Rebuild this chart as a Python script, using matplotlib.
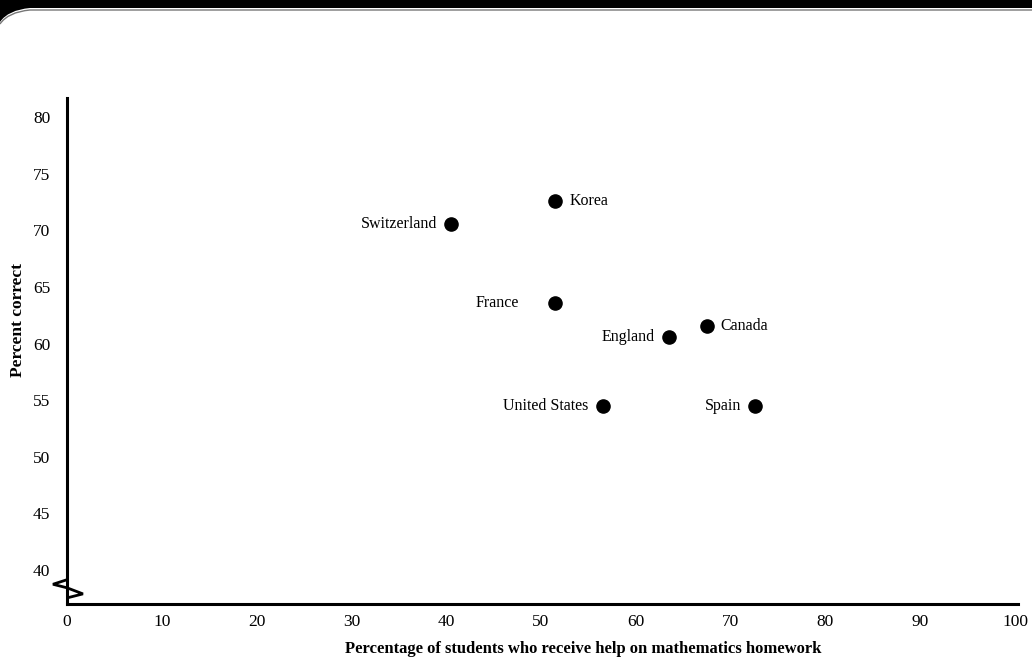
import matplotlib
matplotlib.use("Agg")
import matplotlib.pyplot as plt
from matplotlib.path import Path
from matplotlib.patches import PathPatch

plt.rcParams['font.family'] = ['Liberation Serif', 'DejaVu Serif']

# Data
countries = ['Korea', 'Switzerland', 'France', 'England', 'Canada', 'United States', 'Spain']
help_pct = [51.5, 40.5, 51.5, 63.5, 67.5, 56.5, 72.6]
correct_pct = [72.6, 70.6, 63.6, 60.6, 61.6, 54.5, 54.5]
label_side = ['right', 'left', 'left', 'left', 'right', 'left', 'left']
label_gap = [10, 10, 26, 10, 10, 10, 10]

x_ticks = [0, 10, 20, 30, 40, 50, 60, 70, 80, 90, 100]
y_ticks = [40, 45, 50, 55, 60, 65, 70, 75, 80]

W, H = 1032, 658
fig = plt.figure(figsize=(W / 100, H / 100), dpi=100)
ax = fig.add_axes([67 / W, 54 / H, (1015 - 67) / W, (604 - 98) / H])

ax.scatter(help_pct, correct_pct, s=90, color='black', zorder=3)
for name, x, y, side, gap in zip(countries, help_pct, correct_pct, label_side, label_gap):
    dx = gap if side == 'right' else -gap
    ha = 'left' if side == 'right' else 'right'
    ax.annotate(name, (x, y), xytext=(dx, 0), textcoords='offset points',
                ha=ha, va='center', fontsize=11.5)

ax.set_xlim(0, 100)
ax.set_ylim(37.0, 81.7)
ax.set_xticks(x_ticks)
ax.set_yticks(y_ticks)
ax.tick_params(length=0, labelsize=12.5)
ax.tick_params(axis='x', pad=7)
ax.tick_params(axis='y', pad=12)

for s in ['top', 'right']:
    ax.spines[s].set_visible(False)
ax.spines['left'].set_linewidth(2.2)
ax.spines['bottom'].set_linewidth(2.2)
ax.spines['bottom'].set_bounds(0, 100.3)

# axis break zigzag near the bottom of the y axis
px = ax.transAxes
zz = Path([(0, 0.048), (-0.0148, 0.039), (0, 0.032), (0.0168, 0.020), (0, 0.012)])
ax.add_patch(PathPatch(zz, transform=px, fill=False, lw=2.0, color='black', clip_on=False))

fig.text(583 / W, 1 - 649 / H, 'Percentage of students who receive help on mathematics homework',
         ha='center', va='center', fontsize=12, fontweight='bold')
fig.text(18 / W, 1 - 320 / H, 'Percent correct', rotation=90,
         ha='center', va='center', fontsize=12.5, fontweight='bold')

# scanned frame edge at the top
ft = fig.transFigure
top = Path([(0, 1), (1, 1), (1, 1 - 8 / H), (30 / W, 1 - 8 / H),
            (8 / W, 1 - 10 / H), (0, 1 - 22 / H), (0, 1)],
           [Path.MOVETO, Path.LINETO, Path.LINETO, Path.LINETO,
            Path.CURVE3, Path.CURVE3, Path.CLOSEPOLY])
fig.patches.append(PathPatch(top, transform=ft, color='black', lw=0))
edge = Path([(1, 1 - 10 / H), (30 / W, 1 - 10 / H), (8 / W, 1 - 12 / H), (0, 1 - 24 / H)],
            [Path.MOVETO, Path.LINETO, Path.CURVE3, Path.CURVE3])
fig.patches.append(PathPatch(edge, transform=ft, fill=False, color='#777777', lw=1))

fig.savefig('out.png', dpi=100)
